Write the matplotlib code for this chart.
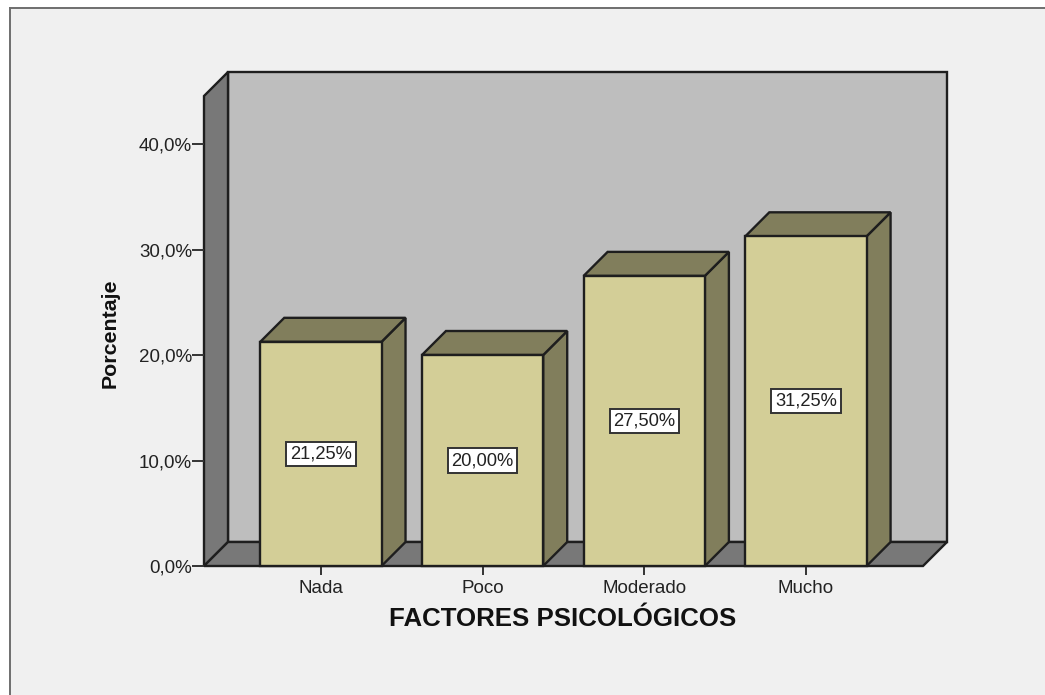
import matplotlib
matplotlib.use('Agg')
import matplotlib.pyplot as plt
from matplotlib.patches import Polygon

categories = ['Nada', 'Poco', 'Moderado', 'Mucho']
values = [21.25, 20.00, 27.50, 31.25]
value_labels = ['21,25%', '20,00%', '27,50%', '31,25%']
y_ticks = [0, 10, 20, 30, 40]
y_tick_labels = ['0,0%', '10,0%', '20,0%', '30,0%', '40,0%']

W, H = 1045, 695
BG = '#F0F0F0'
WALL = '#BEBEBE'
DARK_WALL = '#787878'
BAR_FRONT = '#D3CE97'
BAR_SIDE = '#817E5C'
EDGE = '#1E1E1E'
TEXT = '#222222'

plt.rcParams['font.family'] = ['Liberation Sans', 'DejaVu Sans']

fig = plt.figure(figsize=(W / 100, H / 100), dpi=100, facecolor='white')

# grey panel with the thin frame on top and left
panel = fig.add_axes([10 / W, 0, 1 - 10 / W, 1 - 8 / H], zorder=0)
panel.set_facecolor(BG)
panel.set_xticks([])
panel.set_yticks([])
for side, spine in panel.spines.items():
    spine.set_visible(side in ('left', 'top'))
    spine.set_color('#6E6E6E')
    spine.set_linewidth(1.4)

# axes box is the front plane of the 3d box, pixels from the picture
left, right, bottom, top = 204, 923, 566, 96
ax = fig.add_axes([left / W, 1 - bottom / H, (right - left) / W, (bottom - top) / H], zorder=1)
ax.patch.set_visible(False)
ax.set_xlim(-0.723, 3.724)
ax.set_ylim(0, 44.55)
for spine in ax.spines.values():
    spine.set_visible(False)

# depth of the 3d effect in data units (24 px both ways)
dx = 24 / 161.7
dy = 24 / 10.55
x0, x1 = ax.get_xlim()
y1 = ax.get_ylim()[1]
bar_w = 0.75


def face(points, color, z):
    ax.add_patch(Polygon(points, closed=True, facecolor=color, edgecolor=EDGE,
                         linewidth=1.7, joinstyle='miter', zorder=z, clip_on=False))


face([(x0 + dx, dy), (x1 + dx, dy), (x1 + dx, y1 + dy), (x0 + dx, y1 + dy)], WALL, 1)
face([(x0, 0), (x0 + dx, dy), (x0 + dx, y1 + dy), (x0, y1)], DARK_WALL, 1)
face([(x0, 0), (x1, 0), (x1 + dx, dy), (x0 + dx, dy)], DARK_WALL, 1)

for i, v in enumerate(values):
    a, b = i - bar_w / 2, i + bar_w / 2
    face([(b, 0), (b + dx, dy), (b + dx, v + dy), (b, v)], BAR_SIDE, 2)
    face([(a, v), (b, v), (b + dx, v + dy), (a + dx, v + dy)], BAR_SIDE, 2)
    face([(a, 0), (b, 0), (b, v), (a, v)], BAR_FRONT, 3)
    ax.text(i, v / 2, value_labels[i], ha='center', va='center', fontsize=13.2, color=TEXT, zorder=4,
            bbox=dict(boxstyle='square,pad=0.2', facecolor='white', edgecolor='#333333', linewidth=1.4))

ax.set_xticks(range(len(categories)))
ax.set_xticklabels(categories, fontsize=13.5, color=TEXT)
ax.set_yticks(y_ticks)
ax.set_yticklabels(y_tick_labels, fontsize=13.5, color=TEXT)
ax.tick_params(axis='y', length=8.6, width=1.4, color='#333333', pad=0)
ax.tick_params(axis='x', length=6.5, width=1.4, color='#333333', pad=3.5)

fig.text(563 / W, 1 - 619 / H, 'FACTORES PSICOLÓGICOS', ha='center', va='center',
         fontsize=18.6, fontweight='bold', color='#111111')
fig.text(110 / W, 1 - 333 / H, 'Porcentaje', ha='center', va='center', rotation=90,
         fontsize=15.4, fontweight='bold', color='#111111')

fig.savefig('out.png', dpi=100)
